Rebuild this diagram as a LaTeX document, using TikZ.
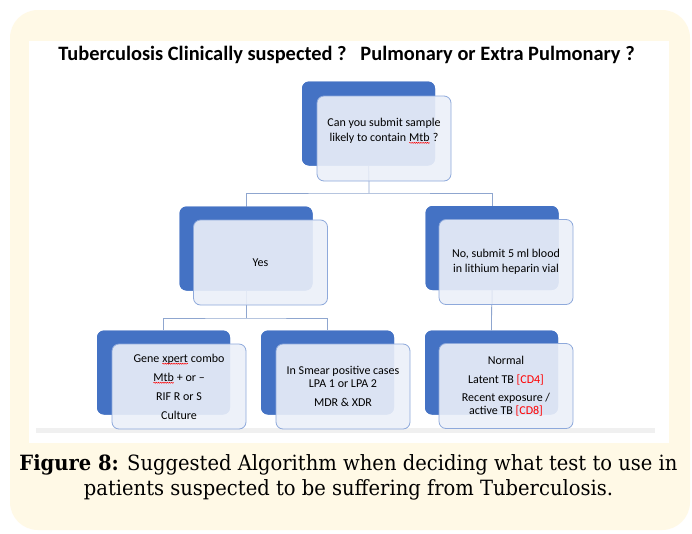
\documentclass[tikz,border=0pt]{standalone}
\usepackage{fontspec}
\setmainfont{Carlito}
\newfontfamily\capfont[FakeStretch=0.93]{DejaVu Serif}
\usetikzlibrary{decorations.pathmorphing}
\definecolor{darkblue}{HTML}{4472C4}
\definecolor{lightfill}{HTML}{ECF0F9}
\definecolor{lightedge}{HTML}{8EA9DB}
\definecolor{linecol}{HTML}{8FA6CF}
\definecolor{paneyellow}{HTML}{FFF9E6}
\definecolor{redtxt}{HTML}{FF0000}
\newcommand\squig[1]{\tikz[x=1pt,y=1pt,baseline=(t.base)]{\node[inner sep=0pt,outer sep=0pt,minimum width=0pt,minimum height=0pt,draw=none,fill=none,rounded corners=0pt,fill opacity=1,text opacity=1](t){#1};\draw[redtxt,line width=0.5pt,fill=none,rounded corners=0pt,draw opacity=1,decorate,decoration={snake,amplitude=0.5pt,segment length=2.2pt}] ([yshift=-1.6pt]t.base west) -- ([yshift=-1.6pt]t.base east);}}
\tikzset{
  darkbox/.style={draw=none,fill=darkblue,rounded corners=7pt,minimum width=133pt,minimum height=84pt,inner sep=0pt},
  lightbox/.style={draw=lightedge,line width=0.8pt,fill=lightfill,fill opacity=0.9,text opacity=1,rounded corners=7pt,minimum width=134pt,minimum height=85pt,inner sep=0pt,align=center,font=\fontsize{12}{14.5}\selectfont},
  conn/.style={draw=linecol,line width=0.8pt},
  boxtext/.style={align=center,font=\fontsize{12}{14.5}\selectfont,inner sep=0pt}
}
\begin{document}
\begin{tikzpicture}[x=1pt,y=-1pt]
\useasboundingbox (0,0) rectangle (692,533);
\fill[white] (0,0) rectangle (692,533);
\fill[paneyellow,rounded corners=28pt] (10,10) rectangle (690,530);
\fill[white] (29,41) rectangle (669,443);
\fill[gray!12] (36,428) rectangle (655,433);
\node[font=\fontsize{20.4}{24}\selectfont\bfseries,inner sep=0pt] (title) at (346.5,55) {Tuberculosis Clinically suspected ?\ \ \ Pulmonary or Extra Pulmonary ?};

% dark boxes
\node[darkbox] (topd) at (368.5,123.5) {};
\node[darkbox] (yesd) at (246,248.5) {};
\node[darkbox] (nod) at (492,248) {};
\node[darkbox] (gened) at (163.5,372.5) {};
\node[darkbox] (smeard) at (327.5,372.5) {};
\node[darkbox] (normd) at (491.5,372.5) {};

% connectors
\coordinate (j1) at (369,193);
\coordinate (j2) at (246,318);
\draw[conn] (topd.center) -- (j1);
\draw[conn] (yesd.center) |- (j1) -| (nod.center);
\draw[conn] (yesd.center) -- (j2);
\draw[conn] (gened.north) |- (j2) -| (smeard.north);
\draw[conn] (nod.center) -- (normd.north);

% redraw dark boxes over connectors
\node[darkbox] at (368.5,123.5) {};
\node[darkbox] at (246,248.5) {};
\node[darkbox] at (492,248) {};
\node[darkbox] at (163.5,372.5) {};
\node[darkbox] at (327.5,372.5) {};
\node[darkbox] at (491.5,372.5) {};
\draw[conn] (topd.center) ++(0,42) -- ++(0,15);
\draw[conn] (yesd.center) ++(0,42) -- ++(0,15);
\draw[conn] (nod.center) ++(0,42) -- ++(0,15);

% light boxes
\node[lightbox] (topl) at (384,138.5) {};
\node[boxtext] (toptext) at (384,131) {Can you submit sample\\likely to contain \squig{Mtb} ?};
\node[lightbox] (yesl) at (260.5,262.5) {Yes};
\node[lightbox] (nol) at (506,262) {No, submit 5 ml blood\\in lithium heparin vial};
\node[lightbox] (genel) at (179,386.5) {Gene \squig{xpert} combo\\[4.5pt]\squig{Mtb} + or --\\[4.5pt]RIF R or S\\[4.5pt]Culture};
\node[lightbox] (smearl) at (343,386.5) {In Smear positive cases\\[-1.5pt]LPA 1 or LPA 2\\[4.2pt]MDR \& XDR};
\node[lightbox] (norml) at (506,386) {Normal\\[4.8pt]Latent TB {\color{redtxt}[CD4]}\\[3.5pt]Recent exposure /\\[-1.8pt]active TB {\color{redtxt}[CD8]}};

% caption
\node[font=\capfont\fontsize{21}{25}\selectfont,align=center,inner sep=0pt] (caption) at (348.5,477.5) {\textbf{Figure 8:} Suggested Algorithm when deciding what test to use in\\patients suspected to be suffering from Tuberculosis.};
\end{tikzpicture}
\end{document}
